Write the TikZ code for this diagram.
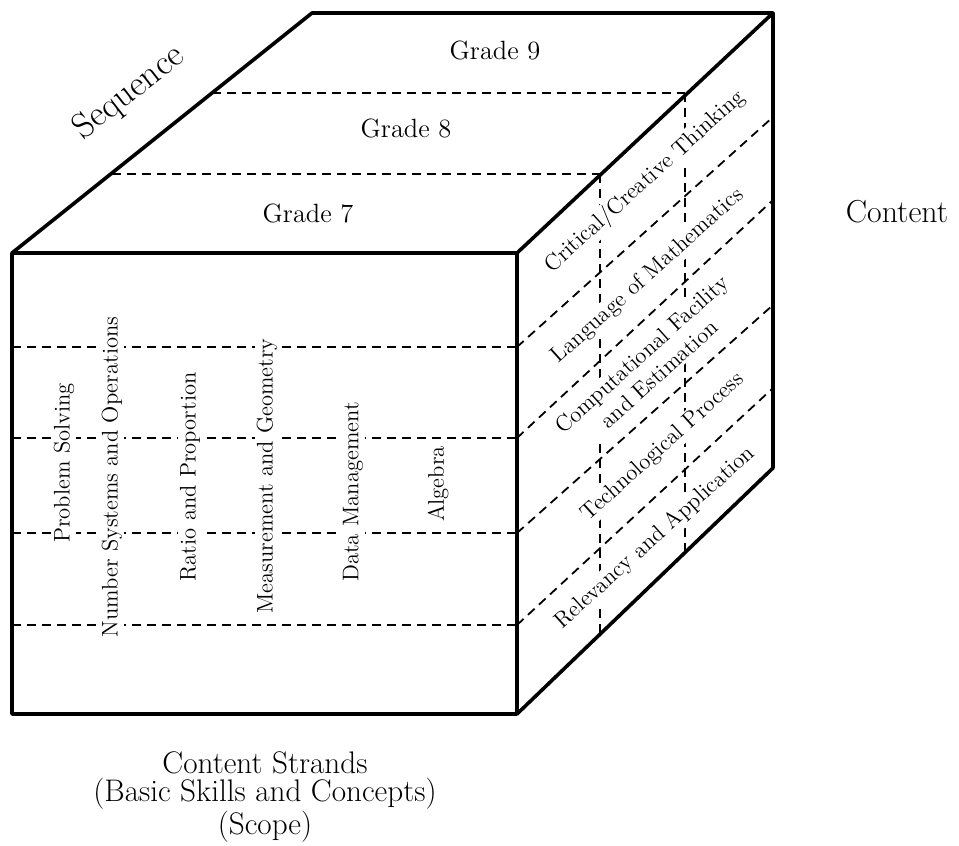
\documentclass[tikz,border=0pt]{standalone}

\begin{document}
\begin{tikzpicture}[x=0.5pt,y=-0.5pt,
    edge/.style={line width=1.8pt,line join=round},
    grid/.style={line width=0.9pt,dash pattern=on 4.5pt off 3pt},
    strand/.style={rotate=90,fill=white,inner sep=1pt,font=\fontsize{11.3}{13}\selectfont},
    process/.style={rotate=42,fill=white,inner sep=1pt,align=center,font=\fontsize{11.3}{13.2}\selectfont},
    grade/.style={font=\fontsize{13.2}{16}\selectfont}]
    \useasboundingbox (0,0) rectangle (959,846);

    % corners of the cube
    \coordinate (ftl) at (12,253);  \coordinate (ftr) at (517,253);
    \coordinate (fbl) at (12,714);  \coordinate (fbr) at (517,714);
    \coordinate (btl) at (312,13);  \coordinate (btr) at (773,13);
    \coordinate (bbr) at (773,468);

    % grade levels on top
    \draw[grid] (212,93) -- (685,93);
    \draw[grid] (112,174) -- (600,174);
    % rows on the front
    \foreach \y in {347,438,533,625}
        \draw[grid] (12,\y) -- (517,\y);
    % bands on the side
    \draw[grid] (517,347) -- (773,117);
    \draw[grid] (517,438) -- (773,200);
    \draw[grid] (517,533) -- (773,305);
    \draw[grid] (517,625) -- (773,388);
    \draw[grid] (600,174) -- (600,634);
    \draw[grid] (685,93) -- (685,552);

    \node[grade] (g9) at (495,50) {Grade 9};
    \node[grade] (g8) at (406,128) {Grade 8};
    \node[grade] (g7) at (308,213) {Grade 7};

    \node[strand] (ps) at (64,463) {Problem Solving};
    \node[strand] (ns) at (112,477) {Number Systems and Operations};
    \node[strand] (rp) at (190,477) {Ratio and Proportion};
    \node[strand] (mg) at (267,476) {Measurement and Geometry};
    \node[strand] (dm) at (353,492) {Data Management};
    \node[strand] (al) at (438,484) {Algebra};

    \node[process] (ct) at (645,182) {Critical/Creative Thinking};
    \node[process] (lm) at (648,276) {Language of Mathematics};
    \node[process] (cf) at (650,364) {Computational Facility\\and Estimation};
    \node[process] (tp) at (663,447) {Technological Process};
    \node[process] (ra) at (655,538) {Relevancy and Application};

    \draw[edge] (ftl) rectangle (fbr);
    \draw[edge] (ftl) -- (btl) -- (btr) -- (ftr);
    \draw[edge] (btr) -- (bbr) -- (fbr);

    \node[rotate=38,font=\fontsize{17.9}{20}\selectfont] (seq) at (129,93) {Sequence};
    \node[font=\fontsize{15.9}{19}\selectfont] (cont) at (897,212) {Content};
    \node[align=center,font=\fontsize{15.6}{14.3}\selectfont] (scope) at (265,797)
        {Content Strands\\(Basic Skills and Concepts)\\(Scope)};
\end{tikzpicture}
\end{document}
